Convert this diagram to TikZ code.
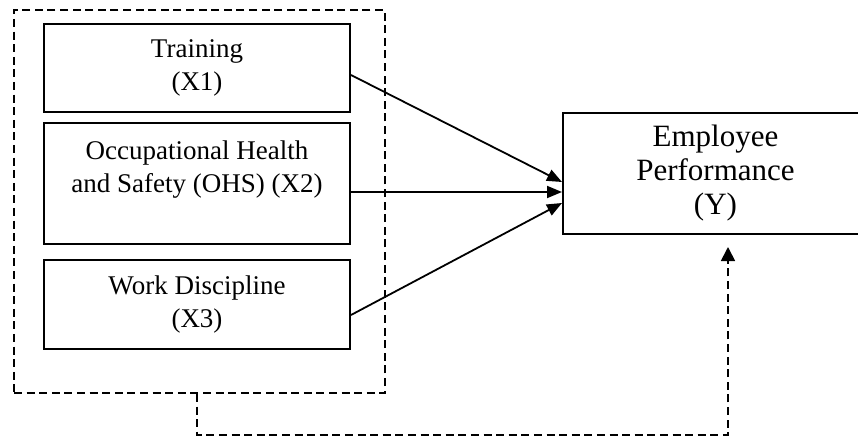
\documentclass[tikz,border=0pt]{standalone}
\usepackage{fontspec}
\setmainfont{Liberation Serif}
\usetikzlibrary{arrows.meta}

\tikzset{
  varbox/.style={draw,line width=1pt,inner sep=0pt,minimum width=153pt,align=center,
    font=\fontsize{13.5}{16.5}\selectfont},
  depbox/.style={draw,line width=1pt,inner sep=0pt,minimum width=152.5pt,minimum height=60.5pt,
    align=center,font=\fontsize{15.5}{17}\selectfont},
  grpbox/.style={draw,line width=0.9pt,dash pattern=on 4pt off 2.3pt,inner sep=0pt,
    minimum width=185.5pt,minimum height=191.5pt},
  effect/.style={line width=0.9pt,-{Triangle[length=7.5pt,width=6pt]}},
  feedback/.style={line width=0.9pt,dash pattern=on 4pt off 2.3pt,-{Triangle[length=7pt,width=7pt]}}
}

\begin{document}
\begin{tikzpicture}[x=0.5pt,y=-0.5pt]
  \useasboundingbox (0,0) rectangle (858,439);

  %group of independent variables
  \node[grpbox] (grp) at (199.5,201.5) {};

  %X1, X2, X3
  \node[varbox,minimum height=44pt] (train) at (197,68) {Training\\(X1)};
  \node[varbox,minimum height=60.5pt] (ohs) at (197,183.5) {Occupational Health\\and Safety (OHS) (X2)\\\mbox{}};
  \node[varbox,minimum height=44.5pt] (disc) at (197,304.5) {Work Discipline\\(X3)};

  %Y
  \node[depbox] (perf) at (715.5,173.5) {Employee\\Performance\\(Y)};

  %effects
  \draw[effect] ([yshift=-3.5pt]train.east) -- ([yshift=-4.25pt]perf.west);
  \draw[effect] ([yshift=-4.25pt]ohs.east) -- ([yshift=-9.25pt]perf.west);
  \draw[effect] ([yshift=-5.25pt]disc.east) -- ([yshift=-14.75pt]perf.west);

  %simultaneous effect
  \coordinate (fbcorner) at (728,435);
  \coordinate (fbend) at (728,247);
  \draw[feedback] ([xshift=-1.25pt]grp.south) |- (fbcorner) -- (fbend);

\end{tikzpicture}
\end{document}
